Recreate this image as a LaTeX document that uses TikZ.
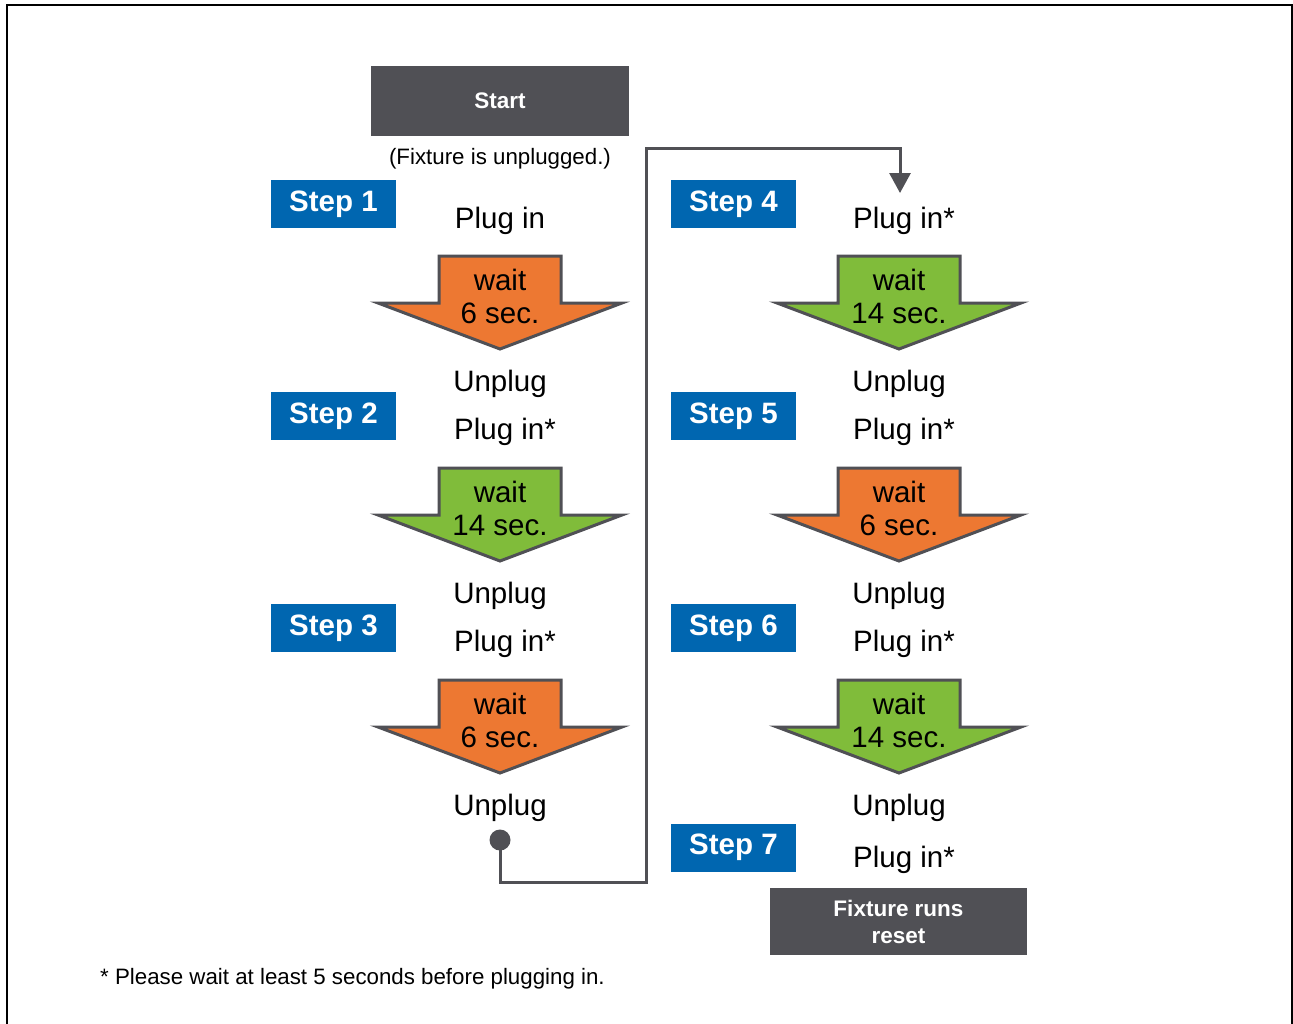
\documentclass[tikz,border=0pt]{standalone}
\usepackage{fontspec}
\setmainfont{Liberation Sans}
\usetikzlibrary{arrows.meta}
\definecolor{boxgray}{HTML}{505055}
\definecolor{linegray}{HTML}{505055}
\definecolor{stepblue}{HTML}{0066B0}
\definecolor{worange}{HTML}{ED7832}
\definecolor{wgreen}{HTML}{80BC3A}
\tikzset{
  px/.style={x=1pt,y=-1pt},
  graybox/.style={fill=boxgray,draw=none,text=white,font=\fontsize{22.5}{27}\selectfont\bfseries,align=center,inner sep=0pt},
  stepbox/.style={fill=stepblue,draw=none,text=white,font=\fontsize{29.5}{32}\selectfont\bfseries,minimum width=125pt,minimum height=48pt,inner sep=0pt},
  lbl/.style={font=\fontsize{29.5}{31}\selectfont,inner sep=0pt,anchor=base},
  waitlbl/.style={font=\fontsize{29.5}{33}\selectfont,inner sep=0pt,align=center},
  note/.style={font=\fontsize{22.3}{26}\selectfont,inner sep=0pt,anchor=base},
  arrowshape/.style={draw=linegray,line width=3pt,line join=miter},
  conn/.style={draw=linegray,line width=3pt},
}
% #1 name, #2 center x, #3 top y, #4 colour, #5 first line, #6 second line
\newcommand{\waitarrow}[6]{%
  \path[arrowshape,fill=#4] (#2-61,#3) -- (#2+61,#3) -- (#2+61,#3+47) -- (#2+122,#3+47)
     -- (#2,#3+93) -- (#2-122,#3+47) -- (#2-61,#3+47) -- cycle;
  \node[waitlbl] (#1) at (#2,#3+40) {#5\\#6};
}
\begin{document}
\begin{tikzpicture}[px]
\useasboundingbox (0,0) rectangle (1293,1023);
% frame
\draw[line width=2pt,black] (7,1030) -- (7,5) -- (1292,5) -- (1292,1030);
% start
\node[graybox,minimum width=258pt,minimum height=70pt] (start) at (500,101) {Start};
\node[note] (unpl) at (500,164) {(Fixture is unplugged.)};
% steps
\node[stepbox] (s1) at (333.5,204) {Step 1};
\node[stepbox] (s2) at (333.5,416) {Step 2};
\node[stepbox] (s3) at (333.5,628) {Step 3};
\node[stepbox] (s4) at (733.5,204) {Step 4};
\node[stepbox] (s5) at (733.5,416) {Step 5};
\node[stepbox] (s6) at (733.5,628) {Step 6};
\node[stepbox] (s7) at (733.5,847.5) {Step 7};
% left column
\node[lbl] (l1) at (500,228) {Plug in};
\waitarrow{w1}{500}{256}{worange}{wait}{6 sec.}
\node[lbl] (l2) at (500,391) {Unplug};
\node[lbl] (l3) at (505,439) {Plug in*};
\waitarrow{w2}{500}{468}{wgreen}{wait}{14 sec.}
\node[lbl] (l4) at (500,603) {Unplug};
\node[lbl] (l5) at (505,651) {Plug in*};
\waitarrow{w3}{500}{680}{worange}{wait}{6 sec.}
\node[lbl] (l6) at (500,815) {Unplug};
% right column
\node[lbl] (r1) at (904,228) {Plug in*};
\waitarrow{w4}{899}{256}{wgreen}{wait}{14 sec.}
\node[lbl] (r2) at (899,391) {Unplug};
\node[lbl] (r3) at (904,439) {Plug in*};
\waitarrow{w5}{899}{468}{worange}{wait}{6 sec.}
\node[lbl] (r4) at (899,603) {Unplug};
\node[lbl] (r5) at (904,651) {Plug in*};
\waitarrow{w6}{899}{680}{wgreen}{wait}{14 sec.}
\node[lbl] (r6) at (899,815) {Unplug};
\node[lbl] (r7) at (904,867) {Plug in*};
\node[graybox,minimum width=257pt,minimum height=67pt] (reset) at (898.5,921.5) {Fixture runs\\reset};
% connector
\node[circle,fill=linegray,minimum size=21pt,inner sep=0pt] (dot) at (500,840) {};
\coordinate (c1) at (500,882);
\coordinate (c2) at (646,882);
\coordinate (c3) at (646,148);
\coordinate (c4) at (900,148);
\coordinate (tip) at (900,193);
\draw[conn,-{Triangle[width=21pt,length=20pt]}] (dot.center) -- (c1) -- (c2) -- (c3) -- (c4) -- (tip);
% footnote
\node[note,anchor=base west] (foot) at (100,984) {* Please wait at least 5 seconds before plugging in.};
\end{tikzpicture}
\end{document}
